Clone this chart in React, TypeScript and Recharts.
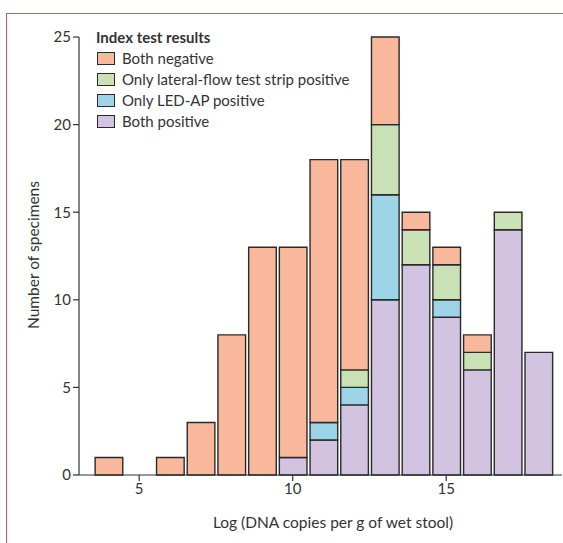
import React from "react";
import { BarChart, Bar, XAxis, YAxis } from "recharts";

const bins = [4, 5, 6, 7, 8, 9, 10, 11, 12, 13, 14, 15, 16, 17, 18];
const bothPositive = [0, 0, 0, 0, 0, 0, 1, 2, 4, 10, 12, 9, 6, 14, 7];
const onlyLedAp = [0, 0, 0, 0, 0, 0, 0, 1, 1, 6, 0, 1, 0, 0, 0];
const onlyLateralFlow = [0, 0, 0, 0, 0, 0, 0, 0, 1, 4, 2, 2, 1, 1, 0];
const bothNegative = [1, 0, 1, 3, 8, 13, 12, 15, 12, 5, 1, 1, 1, 0, 0];

const xTicks = [5, 10, 15];
const yTicks = [0, 5, 10, 15, 20, 25];

const seriesInfo = [
  { key: "neg", name: "Both negative", color: "#F9B89B" },
  { key: "lat", name: "Only lateral-flow test strip positive", color: "#CAE0B5" },
  { key: "led", name: "Only LED-AP positive", color: "#9DD4E7" },
  { key: "pos", name: "Both positive", color: "#D2C4E0" },
];

const data = bins.map((b, i) => ({
  bin: b,
  pos: bothPositive[i],
  led: onlyLedAp[i],
  lat: onlyLateralFlow[i],
  neg: bothNegative[i],
}));

const W = 563;
const H = 543;
const PLOT_LEFT = 79;
const PLOT_RIGHT = 562;
const PLOT_TOP = 37;
const PLOT_BOTTOM = 475;
const X_MIN = 3.04;
const X_MAX = 18.77;
const UNIT = (PLOT_RIGHT - PLOT_LEFT) / (X_MAX - X_MIN);

const font = "Lato, 'Open Sans', sans-serif";
const ink = "#333";
const edge = "#2a2a2a";

export default function App() {
  return (
    <div style={{ position: "absolute", left: 0, top: 0, width: W, height: H, background: "#fff", fontFamily: font }}>
      <div
        style={{
          position: "absolute",
          left: 6,
          top: 13,
          right: 0,
          bottom: 0,
          borderTop: "1.5px solid #c9566f",
          borderLeft: "1.5px solid #c9566f",
        }}
      />
      <BarChart
        width={W}
        height={H}
        data={data}
        margin={{ top: PLOT_TOP, right: W - PLOT_RIGHT, bottom: H - PLOT_BOTTOM - 30, left: PLOT_LEFT - 40 }}
        style={{ position: "absolute", left: 0, top: 0 }}
      >
        <XAxis
          dataKey="bin"
          type="number"
          domain={[X_MIN, X_MAX]}
          ticks={xTicks}
          height={30}
          allowDataOverflow
          tick={{ fill: ink, fontSize: 15, fontFamily: font }}
          tickLine={{ stroke: ink, strokeWidth: 1.2 }}
          axisLine={{ stroke: ink, strokeWidth: 1.2 }}
          tickSize={6}
        />
        <YAxis
          type="number"
          domain={[0, 25]}
          ticks={yTicks}
          width={40}
          tick={{ fill: ink, fontSize: 15, fontFamily: font }}
          tickLine={{ stroke: ink, strokeWidth: 1.2 }}
          axisLine={{ stroke: ink, strokeWidth: 1.2 }}
          tickSize={6}
        />
        {["pos", "led", "lat", "neg"].map((k) => {
          const s = seriesInfo.find((d) => d.key === k)!;
          return (
            <Bar
              key={k}
              dataKey={k}
              name={s.name}
              stackId="a"
              fill={s.color}
              stroke={edge}
              strokeWidth={1.4}
              barSize={UNIT}
              isAnimationActive={false}
            />
          );
        })}
      </BarChart>

      <div
        style={{
          position: "absolute",
          left: 33,
          top: 255,
          transform: "translate(-50%, -50%) rotate(-90deg)",
          whiteSpace: "nowrap",
          fontSize: 15.5,
          color: ink,
        }}
      >
        Number of specimens
      </div>
      <div
        style={{
          position: "absolute",
          left: 333,
          top: 522,
          transform: "translate(-50%, -50%)",
          whiteSpace: "nowrap",
          fontSize: 15.5,
          color: ink,
        }}
      >
        Log (DNA copies per g of wet stool)
      </div>

      <div style={{ position: "absolute", left: 96, top: 27, fontSize: 15, color: ink, lineHeight: "21px" }}>
        <div style={{ fontWeight: 700 }}>Index test results</div>
        {seriesInfo.map((s) => (
          <div key={s.key} style={{ display: "flex", alignItems: "center", whiteSpace: "nowrap" }}>
            <span
              style={{
                display: "inline-block",
                width: 16,
                height: 11,
                background: s.color,
                border: `1.4px solid ${edge}`,
                marginRight: 7,
                marginLeft: 1,
              }}
            />
            {s.name}
          </div>
        ))}
      </div>
    </div>
  );
}
